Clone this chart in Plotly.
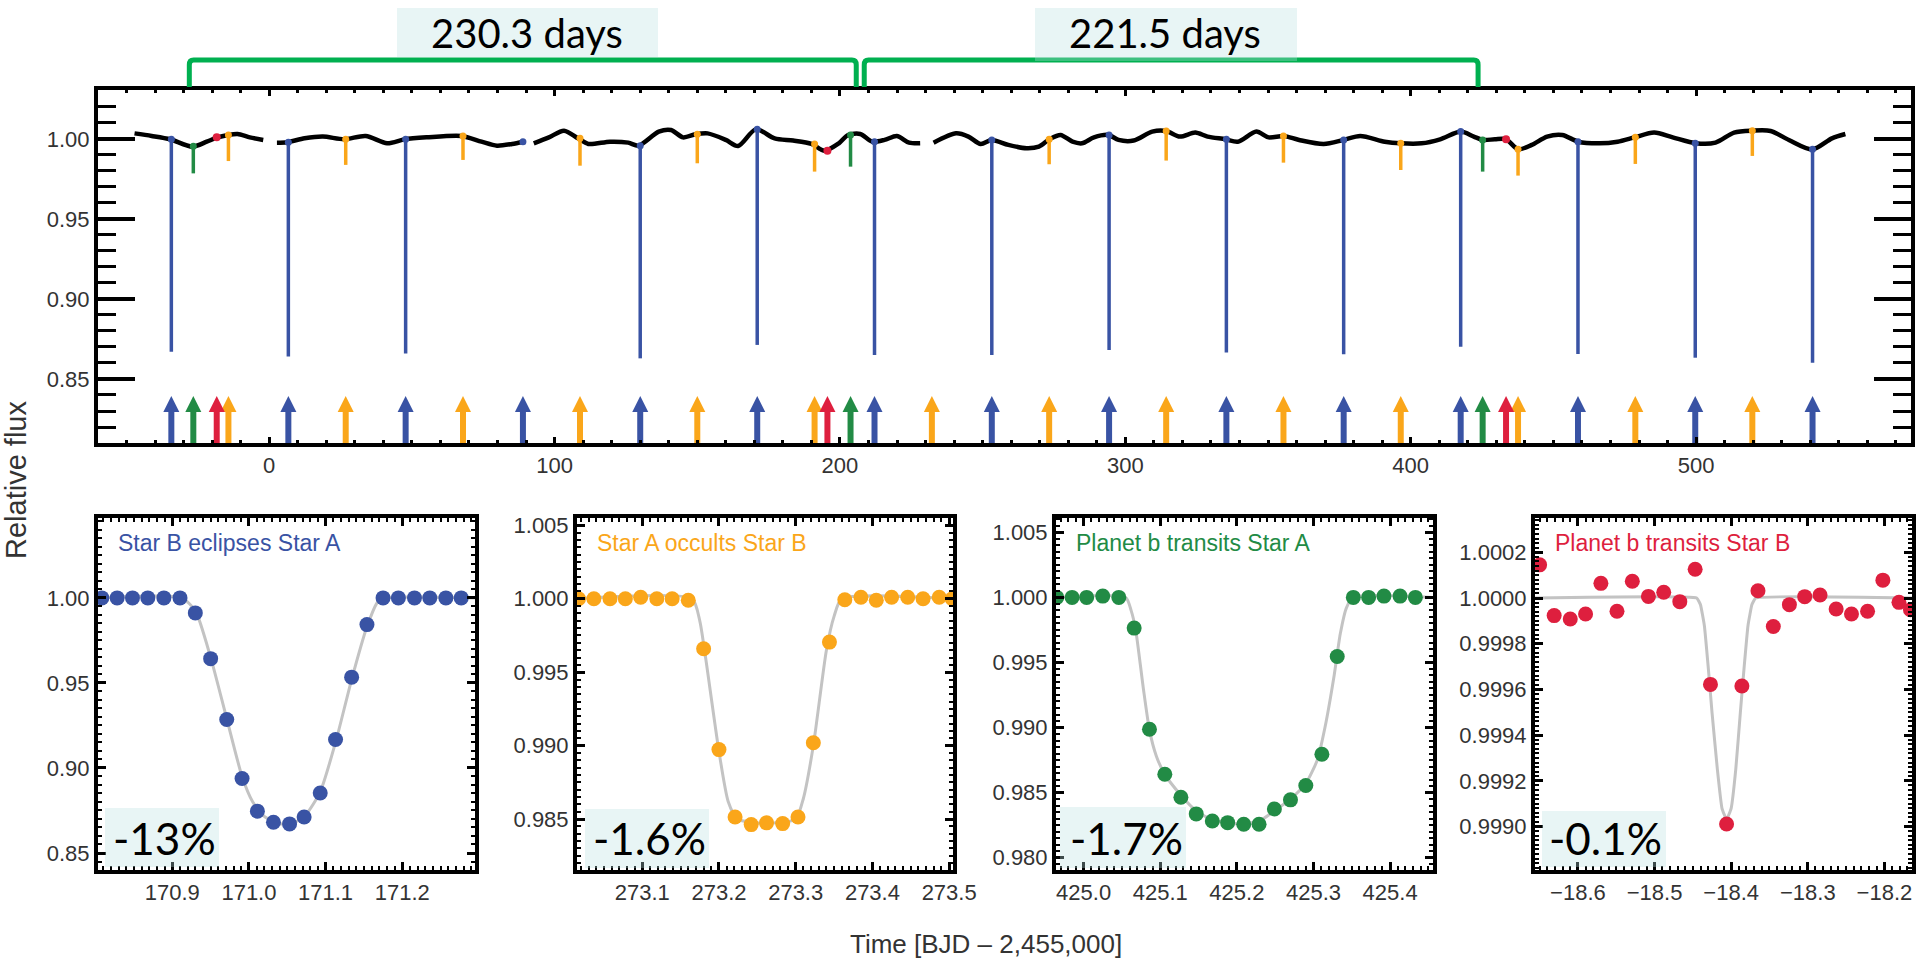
import plotly.graph_objects as go

# ---------------- DATA ----------------
# Top panel: long-term light curve (None = data gap)
lc_time = [-47.2, -41.2, -34.7, -27.0, -21.9, -18.4, -14.4, -11.1, -6.8, -2.1, None,
           2.7, 6.3, 12.4, 18.8, 26.3, 33.8, 41.3, 47.5, 55.1, 67.4, 74.4, 79.8, 85.1, 89.0, None,
           92.7, 98.0, 103.3, 108.2, 111.8, 119.4, 125.8, 129.4, 136.5, 140.8, 145.0, 149.3, 153.6,
           160.0, 164.3, 170.5, 177.1, 183.6, 190.0, 194.6, 199.6, 202.8, 207.1, 211.3, 215.6,
           219.9, 224.2, 228.1, None,
           232.8, 240.7, 245.0, 249.3, 253.2, 259.0, 265.4, 269.7, 273.4, 277.3, 281.5, 284.8,
           289.0, 294.1, 297.6, 302.9, 309.4, 314.3, 319.1, 324.5, 328.8, 335.1, 339.4, 345.9,
           350.2, 355.5, 360.9, 369.5, 376.4, 382.3, 390.9, 396.5, 403.8, 410.3, 417.6, 422.1,
           425.3, 429.5, 433.4, 437.7, 442.4, 447.8, 453.1, 458.7, 466.1, 472.5, 478.4, 485.3,
           491.8, 499.9, 506.8, 513.3, 519.7, 526.1, 532.5, 540.7, 547.6, 552.3]
lc_flux = [1.0035, 1.0019, 0.9998, 0.9952, 0.9983, 1.0008, 1.0025, 1.0031, 1.0010, 0.9994, None,
           0.9977, 0.9980, 1.0004, 1.0015, 0.9998, 1.0019, 0.9973, 0.9998, 1.0010, 1.0019, 0.9983, 0.9958, 0.9969, 0.9983, None,
           0.9973, 1.0010, 1.0052, 1.0004, 0.9969, 0.9983, 0.9977, 0.9958, 1.0046, 1.0056, 1.0010, 1.0029, 1.0035,
           0.9994, 0.9956, 1.0060, 1.0004, 0.9990, 0.9969, 0.9927, 0.9973, 1.0025, 1.0031, 0.9983, 0.9994,
           1.0019, 0.9977, 0.9973, None,
           0.9977, 1.0035, 1.0015, 0.9969, 0.9994, 0.9963, 0.9942, 0.9952, 0.9998, 1.0025, 0.9983, 0.9973,
           1.0010, 1.0025, 0.9994, 0.9990, 1.0046, 1.0050, 1.0015, 1.0040, 1.0015, 0.9998, 0.9983, 1.0046,
           1.0010, 1.0019, 0.9994, 0.9969, 0.9994, 1.0019, 0.9983, 0.9973, 0.9973, 0.9998, 1.0046, 1.0015,
           0.9994, 0.9998, 0.9998, 0.9935, 0.9963, 1.0015, 1.0025, 0.9983, 0.9973, 0.9983, 1.0010, 1.0040,
           1.0010, 0.9973, 0.9977, 1.0040, 1.0052, 1.0050, 0.9994, 0.9935, 1.0004, 1.0031]

# Star B eclipses Star A (primary eclipses)
primary_time = [-34.3, 6.7, 47.8, 88.9, 130.0, 171.0, 212.1, 253.2, 294.3, 335.4, 376.5, 417.5, 458.6, 499.7, 540.8]
primary_top = [0.9998, 0.9980, 0.9998, 0.9983, 0.9958, 1.0060, 0.9983, 0.9994, 1.0025, 0.9998, 0.9994, 1.0046, 0.9983, 0.9973, 0.9935]
primary_bottom = [0.8671, 0.8640, 0.8660, None, 0.8629, 0.8713, 0.8650, 0.8650, 0.8681, 0.8665, 0.8654, 0.8702, 0.8656, 0.8633, 0.8602]

# Star A occults Star B (secondary eclipses)
secondary_time = [-14.3, 26.8, 67.9, 108.9, 150.0, 191.1, 232.2, 273.3, 314.3, 355.4, 396.5, 437.6, 478.7, 519.7]
secondary_top = [1.0025, 0.9998, 1.0019, 1.0004, 1.0029, 0.9969, None, 0.9998, 1.0050, 1.0019, 0.9973, 0.9935, 1.0010, 1.0052]
secondary_bottom = [0.9862, 0.9838, 0.9869, 0.9833, 0.9848, 0.9796, None, 0.9842, 0.9865, 0.9852, 0.9806, 0.9771, 0.9844, 0.9894]

# Planet b transits Star A
transitA_time = [-26.6, 203.7, 425.2]
transitA_top = [0.9955, 1.0025, 0.9994]
transitA_bottom = [0.9785, 0.9827, 0.9796]

# Planet b transits Star B
transitB_time = [-18.4, 195.6, 433.4]
transitB_top = [1.0010, 0.9927, 0.9998]

interval_labels = ["230.3 days", "221.5 days"]
interval_start = [-28.0, 208.5]
interval_end = [205.7, 423.6]
interval_label_time = [90.2, 314.0]

# Bottom panels
p1_time = [170.808, 170.828, 170.848, 170.868, 170.889, 170.910, 170.930, 170.950, 170.971, 170.991,
           171.011, 171.032, 171.053, 171.072, 171.093, 171.113, 171.134, 171.154, 171.175, 171.195,
           171.216, 171.236, 171.257, 171.277]
p1_flux = [1.000, 1.000, 1.000, 1.000, 1.000, 1.000, 0.9912, 0.9643, 0.9285, 0.8938,
           0.8746, 0.8681, 0.8671, 0.8712, 0.8853, 0.9167, 0.9534, 0.9843, 1.000, 1.000,
           1.000, 1.000, 1.000, 1.000]
p1_model_time = [170.803, 170.912, 170.930, 170.950, 170.971, 170.991, 171.005, 171.020, 171.040,
                 171.060, 171.075, 171.093, 171.113, 171.134, 171.154, 171.168, 171.180, 171.295]
p1_model_flux = [1.000, 1.000, 0.9925, 0.9650, 0.9290, 0.8950, 0.8800, 0.8715, 0.8672,
                 0.8680, 0.8730, 0.8860, 0.9150, 0.9520, 0.9830, 0.9975, 1.000, 1.000]

p2_time = [273.017, 273.037, 273.058, 273.078, 273.098, 273.119, 273.139, 273.160, 273.180, 273.200,
           273.221, 273.242, 273.262, 273.283, 273.303, 273.323, 273.344, 273.364, 273.385, 273.405,
           273.425, 273.446, 273.466, 273.487, 273.504]
p2_flux = [1.0000, 1.0000, 1.0000, 1.0000, 1.0001, 1.0000, 1.0000, 0.9999, 0.9966, 0.98973,
           0.98514, 0.98462, 0.98474, 0.98469, 0.98514, 0.99020, 0.99705, 0.99993, 1.0001, 0.9999,
           1.0001, 1.0001, 1.0000, 1.0001, 1.0000]
p2_model_time = [273.015, 273.165, 273.175, 273.182, 273.200, 273.212, 273.224, 273.262, 273.300,
                 273.310, 273.323, 273.340, 273.350, 273.360, 273.505]
p2_model_flux = [1.000, 1.000, 0.9985, 0.9962, 0.9896, 0.9862, 0.9850, 0.9847, 0.9850,
                 0.9864, 0.9900, 0.9965, 0.9988, 1.000, 1.000]

p3_time = [424.965, 424.985, 425.004, 425.025, 425.046, 425.066, 425.086, 425.106, 425.127, 425.147,
           425.168, 425.188, 425.209, 425.229, 425.249, 425.270, 425.290, 425.311, 425.331, 425.352,
           425.372, 425.392, 425.413, 425.433]
p3_flux = [1.0000, 1.0000, 1.0000, 1.0001, 1.0000, 0.99764, 0.98987, 0.98641, 0.98464, 0.98336,
           0.98282, 0.98269, 0.98256, 0.98256, 0.98374, 0.98444, 0.98554, 0.98795, 0.99546, 1.0000,
           1.0000, 1.0001, 1.0001, 1.0000]
p3_model_time = [424.964, 425.055, 425.062, 425.068, 425.078, 425.086, 425.095, 425.106, 425.127,
                 425.147, 425.168, 425.198, 425.229, 425.249, 425.270, 425.290, 425.305, 425.315,
                 425.327, 425.335, 425.343, 425.352, 425.456]
p3_model_flux = [1.000, 1.000, 0.9990, 0.9975, 0.9930, 0.9898, 0.9878, 0.9864, 0.9848,
                 0.9836, 0.9829, 0.9826, 0.9828, 0.9836, 0.9845, 0.9857, 0.9875, 0.9900,
                 0.9940, 0.9972, 0.9992, 1.000, 1.000]

p4_time = [-18.650, -18.631, -18.610, -18.590, -18.570, -18.549, -18.529, -18.508, -18.488, -18.467,
           -18.447, -18.427, -18.406, -18.386, -18.365, -18.345, -18.324, -18.304, -18.284, -18.263,
           -18.243, -18.222, -18.202, -18.181, -18.166]
p4_flux = [1.000145, 0.999923, 0.999908, 0.999930, 1.000064, 0.999942, 1.000073, 1.000007, 1.000025, 0.999984,
           1.000126, 0.999622, 0.999011, 0.999615, 1.000032, 0.999875, 0.999971, 1.000006, 1.000013, 0.999952,
           0.999930, 0.999942, 1.000078, 0.999981, 0.999949]
p4_model_time = [-18.656, -18.445, -18.440, -18.435, -18.430, -18.425, -18.418, -18.412, -18.406,
                 -18.400, -18.394, -18.388, -18.383, -18.378, -18.373, -18.368, -18.164]
p4_model_flux = [1.0000, 1.0000, 0.99997, 0.99988, 0.99970, 0.99950, 0.99925, 0.99908, 0.99903,
                 0.99908, 0.99925, 0.99950, 0.99970, 0.99988, 0.99997, 1.0000, 1.0000]

panel_titles = ["Star B eclipses Star A", "Star A occults Star B", "Planet b transits Star A", "Planet b transits Star B"]
panel_depths = ["-13%", "-1.6%", "-1.7%", "-0.1%"]

# ---------------- STYLE / LAYOUT HELPERS ----------------
W, H = 1917, 958
BLUE = "#3953a4"
ORANGE = "#faa61a"
GREEN = "#228b45"
RED = "#de1f3e"
MODEL = "#c3c3c3"
BRACKET = "#00b050"
BOX = "rgba(184,225,225,0.33)"
SANS = "Liberation Sans, Arial, sans-serif"
TICKFONT = dict(family=SANS, size=22, color="#333333")
ARROW_BASE = 0.81
ARROW_TIP = 0.8394


def px(x):
    return x / W


def py(y):
    return 1 - y / H


fig = go.Figure()

# top panel light curve
fig.add_trace(go.Scatter(x=lc_time, y=lc_flux, mode="lines",
                         line=dict(color="black", width=4.5, shape="spline", smoothing=0.8),
                         connectgaps=False, xaxis="x", yaxis="y", hoverinfo="skip"))


def event_lines(times, tops, bottoms, color):
    xs, ys = [], []
    for t, a, b in zip(times, tops, bottoms):
        if a is None or b is None:
            continue
        xs += [t, t, None]
        ys += [a, b, None]
    fig.add_trace(go.Scatter(x=xs, y=ys, mode="lines", line=dict(color=color, width=3.5),
                             xaxis="x", yaxis="y", hoverinfo="skip"))
    mt = [t for t, a in zip(times, tops) if a is not None]
    ma = [a for a in tops if a is not None]
    fig.add_trace(go.Scatter(x=mt, y=ma, mode="markers", marker=dict(color=color, size=7),
                             xaxis="x", yaxis="y", hoverinfo="skip"))


def arrows(times, color):
    xs, ys = [], []
    for t in times:
        xs += [t, t, None]
        ys += [ARROW_BASE, ARROW_TIP - 0.006, None]
    fig.add_trace(go.Scatter(x=xs, y=ys, mode="lines", line=dict(color=color, width=6),
                             xaxis="x", yaxis="y", hoverinfo="skip"))
    fig.add_trace(go.Scatter(x=times, y=[ARROW_TIP] * len(times), mode="markers",
                             marker=dict(symbol="arrow-up", size=16, color=color, line=dict(width=0)),
                             xaxis="x", yaxis="y", hoverinfo="skip"))


event_lines(primary_time, primary_top, primary_bottom, BLUE)
event_lines(secondary_time, secondary_top, secondary_bottom, ORANGE)
event_lines(transitA_time, transitA_top, transitA_bottom, GREEN)
fig.add_trace(go.Scatter(x=transitB_time, y=transitB_top, mode="markers", marker=dict(color=RED, size=8),
                         xaxis="x", yaxis="y", hoverinfo="skip"))

arrows(primary_time, BLUE)
arrows(secondary_time, ORANGE)
arrows(transitA_time, GREEN)
arrows(transitB_time, RED)

# bottom panels
panels = [
    (p1_time, p1_flux, p1_model_time, p1_model_flux, BLUE, 0.6),
    (p2_time, p2_flux, p2_model_time, p2_model_flux, ORANGE, 0.6),
    (p3_time, p3_flux, p3_model_time, p3_model_flux, GREEN, 0.6),
    (p4_time, p4_flux, p4_model_time, p4_model_flux, RED, 0.3),
]
for i, (t, f, mt, mf, c, sm) in enumerate(panels):
    xa, ya = "x%d" % (i + 2), "y%d" % (i + 2)
    fig.add_trace(go.Scatter(x=mt, y=mf, mode="lines", line=dict(color=MODEL, width=3, shape="spline", smoothing=sm),
                             xaxis=xa, yaxis=ya, hoverinfo="skip"))
    fig.add_trace(go.Scatter(x=t, y=f, mode="markers", marker=dict(color=c, size=15, line=dict(width=0)),
                             xaxis=xa, yaxis=ya, hoverinfo="skip"))


def frame(**kw):
    d = dict(showline=True, linewidth=4, linecolor="black", mirror="allticks", ticks="inside",
             tickcolor="black", showgrid=False, zeroline=False, tickfont=TICKFONT, automargin=False)
    d.update(kw)
    return d


layout = dict(
    width=W, height=H, margin=dict(l=0, r=0, t=0, b=0, autoexpand=False), showlegend=False,
    paper_bgcolor="white", plot_bgcolor="white",
    xaxis=frame(domain=[px(98), px(1911)], range=[-60, 575.3], anchor="y", tick0=0, dtick=100,
                ticklen=6, tickwidth=3,
                minor=dict(dtick=10, ticks="inside", ticklen=3, tickwidth=3, tickcolor="black")),
    yaxis=frame(domain=[py(443), py(90)], range=[ARROW_BASE, 1.0306], anchor="x", tick0=0, dtick=0.05,
                tickformat=".2f", ticklen=37, tickwidth=4,
                minor=dict(dtick=0.01, ticks="inside", ticklen=18, tickwidth=3, tickcolor="black")),
)

bottom_dom_y = [py(870), py(518)]
panel_px = [(98, 475), (577, 953), (1056, 1433), (1535, 1912)]
x_ranges = [[170.803, 171.295], [273.015, 273.505], [424.964, 425.456], [-18.656, -18.164]]
y_ranges = [[0.84, 1.047], [0.98153, 1.0055], [0.97905, 1.0061], [0.99881, 1.00035]]
y_dticks = [0.05, 0.005, 0.005, 0.0002]
y_formats = [".2f", ".3f", ".3f", ".4f"]
for i in range(4):
    n = i + 2
    layout["xaxis%d" % n] = frame(domain=[px(panel_px[i][0]), px(panel_px[i][1])], range=x_ranges[i],
                                  anchor="y%d" % n, tick0=0, dtick=0.1, tickformat=".1f", ticklen=8, tickwidth=3,
                                  minor=dict(dtick=0.01, ticks="inside", ticklen=4, tickwidth=2, tickcolor="black"))
    layout["yaxis%d" % n] = frame(domain=bottom_dom_y, range=y_ranges[i], anchor="x%d" % n, tick0=0,
                                  dtick=y_dticks[i], tickformat=y_formats[i], ticklen=8, tickwidth=3,
                                  minor=dict(dtick=y_dticks[i] / 10, ticks="inside", ticklen=4, tickwidth=2,
                                             tickcolor="black"))
fig.update_layout(**layout)

shapes = []
annotations = []
# interval brackets
yb, yt = py(87), py(60)
for s, e in zip(interval_start, interval_end):
    path = (f"M {s},{yb} L {s},{yt - 0.005} Q {s},{yt} {s + 1.5},{yt} "
            f"L {e - 1.5},{yt} Q {e},{yt} {e},{yt - 0.005} L {e},{yb}")
    shapes.append(dict(type="path", path=path, xref="x", yref="paper", line=dict(color=BRACKET, width=5)))
label_boxes = [(397, 658, 8, 57), (1035, 1297, 8, 61)]
for (x0, x1, y0, y1), lab, tl in zip(label_boxes, interval_labels, interval_label_time):
    shapes.append(dict(type="rect", xref="paper", yref="paper", x0=px(x0), x1=px(x1), y0=py(y1), y1=py(y0),
                       fillcolor=BOX, line=dict(width=0)))
    annotations.append(dict(text=lab, x=tl, xref="x", y=py(33), yref="paper", showarrow=False,
                            xanchor="center", yanchor="middle",
                            font=dict(family="Lato, sans-serif", size=40, color="black")))

# panel titles and depth boxes
title_colors = [BLUE, ORANGE, GREEN, RED]
depth_boxes = [(105, 219, 808, 867), (585, 709, 809, 868), (1060, 1186, 807, 868), (1542, 1666, 811, 867)]
depth_text_x = [111, 591, 1068, 1547]
for i in range(4):
    annotations.append(dict(text=panel_titles[i], x=px(panel_px[i][0] + 18), y=py(543), xref="paper", yref="paper",
                            showarrow=False, xanchor="left", yanchor="middle",
                            font=dict(family=SANS, size=23, color=title_colors[i])))
    x0, x1, y0, y1 = depth_boxes[i]
    shapes.append(dict(type="rect", xref="paper", yref="paper", x0=px(x0), x1=px(x1), y0=py(y1), y1=py(y0),
                       fillcolor=BOX, line=dict(width=0)))
    annotations.append(dict(text=panel_depths[i], x=px(depth_text_x[i]), y=py(838), xref="paper", yref="paper",
                            showarrow=False, xanchor="left", yanchor="middle",
                            font=dict(family="Lato, sans-serif", size=44, color="black")))

# axis titles
annotations.append(dict(text="Relative flux", x=px(16), y=py(480), xref="paper", yref="paper", showarrow=False,
                        textangle=-90, xanchor="center", yanchor="middle",
                        font=dict(family=SANS, size=29, color="#333333")))
annotations.append(dict(text="Time [BJD \u2013 2,455,000]", x=px(986), y=py(944), xref="paper", yref="paper",
                        showarrow=False, xanchor="center", yanchor="middle",
                        font=dict(family=SANS, size=26, color="#333333")))

fig.update_layout(shapes=shapes, annotations=annotations)
fig.write_html("out.html")
